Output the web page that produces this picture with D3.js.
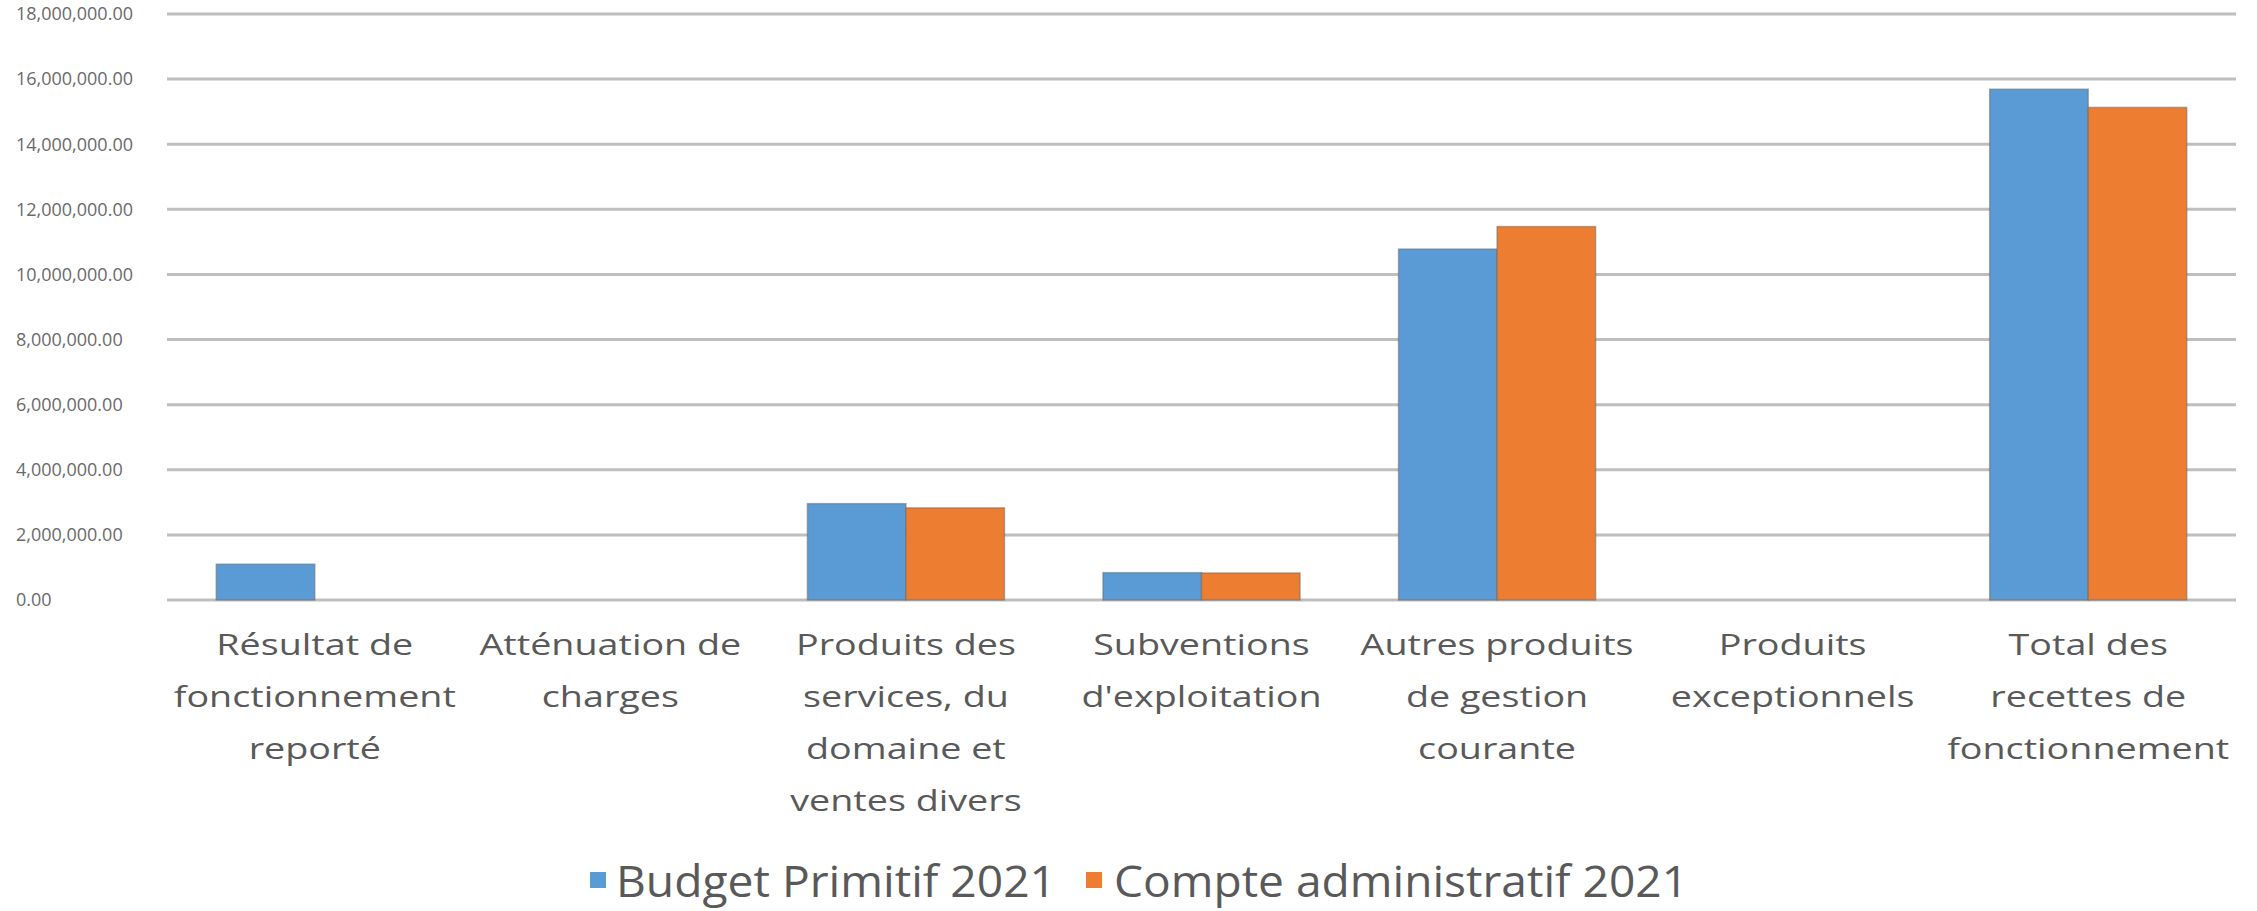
<!DOCTYPE html>
<html>
<head>
<meta charset="utf-8">
<script src="https://cdn.jsdelivr.net/npm/d3@7"></script>
<style>
  body { margin: 0; background: #fff; }
  text { font-family: "Open Sans", sans-serif; fill: #595959; }
</style>
</head>
<body>
<div id="chart"></div>
<script>
const categories = [
  ["Résultat de", "fonctionnement", "reporté"],
  ["Atténuation de", "charges"],
  ["Produits des", "services, du", "domaine et", "ventes divers"],
  ["Subventions", "d'exploitation"],
  ["Autres produits", "de gestion", "courante"],
  ["Produits", "exceptionnels"],
  ["Total des", "recettes de", "fonctionnement"]
];
const seriesNames = ["Budget Primitif 2021", "Compte administratif 2021"];
const budgetPrimitif = [1100000, 0, 2960000, 840000, 10780000, 0, 15690000];
const compteAdmin = [0, 0, 2830000, 830000, 11470000, 0, 15130000];
const yTicks = [0, 2000000, 4000000, 6000000, 8000000, 10000000, 12000000, 14000000, 16000000, 18000000];
const colors = ["#5B9BD5", "#ED7D31"];

const W = 2257, H = 911;
const margin = { top: 14, right: 21, bottom: 311, left: 167 };

const svg = d3.select("#chart").append("svg").attr("width", W).attr("height", H);

const keys = categories.map((d, i) => "c" + i);
const rows = keys.map((k, i) => ({ key: k, values: [budgetPrimitif[i], compteAdmin[i]] }));

const x0 = d3.scaleBand().domain(keys).range([margin.left, W - margin.right])
  .paddingInner(1 / 3).paddingOuter(1 / 6);
const x1 = d3.scaleBand().domain([0, 1]).range([0, x0.bandwidth()]);
const y = d3.scaleLinear().domain([0, 18000000]).range([H - margin.bottom, margin.top]);

// gridlines
svg.append("g")
  .selectAll("line")
  .data(yTicks)
  .join("line")
  .attr("x1", margin.left)
  .attr("x2", W - margin.right)
  .attr("y1", (d) => y(d))
  .attr("y2", (d) => y(d))
  .attr("stroke", "#bfbfbf")
  .attr("stroke-width", 3);

// y labels, left aligned
const fmt = d3.format(",.2f");
svg.append("g")
  .selectAll("text")
  .data(yTicks)
  .join("text")
  .attr("x", 16)
  .attr("y", (d) => y(d))
  .attr("dy", "0.35em")
  .style("font-size", "18px")
  .style("fill", "#6a6a6a")
  .text((d) => fmt(d));

// bars
svg.append("g")
  .selectAll("g")
  .data(rows)
  .join("g")
  .attr("transform", (d) => "translate(" + x0(d.key) + ",0)")
  .selectAll("rect")
  .data((d) => d.values.map((v, j) => ({ j, v })).filter((e) => e.v > 0))
  .join("rect")
  .attr("x", (d) => x1(d.j))
  .attr("y", (d) => y(d.v))
  .attr("width", x1.bandwidth())
  .attr("height", (d) => y(0) - y(d.v))
  .attr("fill", (d) => colors[d.j])
  .attr("stroke", "rgba(110,110,110,0.55)")
  .attr("stroke-width", 1.5);

// category labels
const labelScale = 1.3;
const catG = svg.append("g")
  .selectAll("g")
  .data(categories)
  .join("g")
  .attr("transform", (d, i) =>
    "translate(" + (x0(keys[i]) + x0.bandwidth() / 2) + "," + (H - margin.bottom + 55) + ") scale(" + labelScale + ",1)");
catG.selectAll("text")
  .data((d) => d)
  .join("text")
  .attr("x", 0)
  .attr("y", (d, i) => i * 52)
  .attr("text-anchor", "middle")
  .style("font-size", "29px")
  .text((d) => d);

// legend
const legendItems = [
  { sq: 590, tx: 616, len: 440 },
  { sq: 1086, tx: 1114, len: 574 }
];
const lg = svg.append("g");
legendItems.forEach((it, i) => {
  lg.append("rect")
    .attr("x", it.sq).attr("y", 872)
    .attr("width", 16).attr("height", 16)
    .attr("fill", colors[i]);
  lg.append("text")
    .attr("x", it.tx).attr("y", 897)
    .attr("textLength", it.len)
    .attr("lengthAdjust", "spacingAndGlyphs")
    .style("font-size", "44px")
    .text(seriesNames[i]);
});
</script>
</body>
</html>
